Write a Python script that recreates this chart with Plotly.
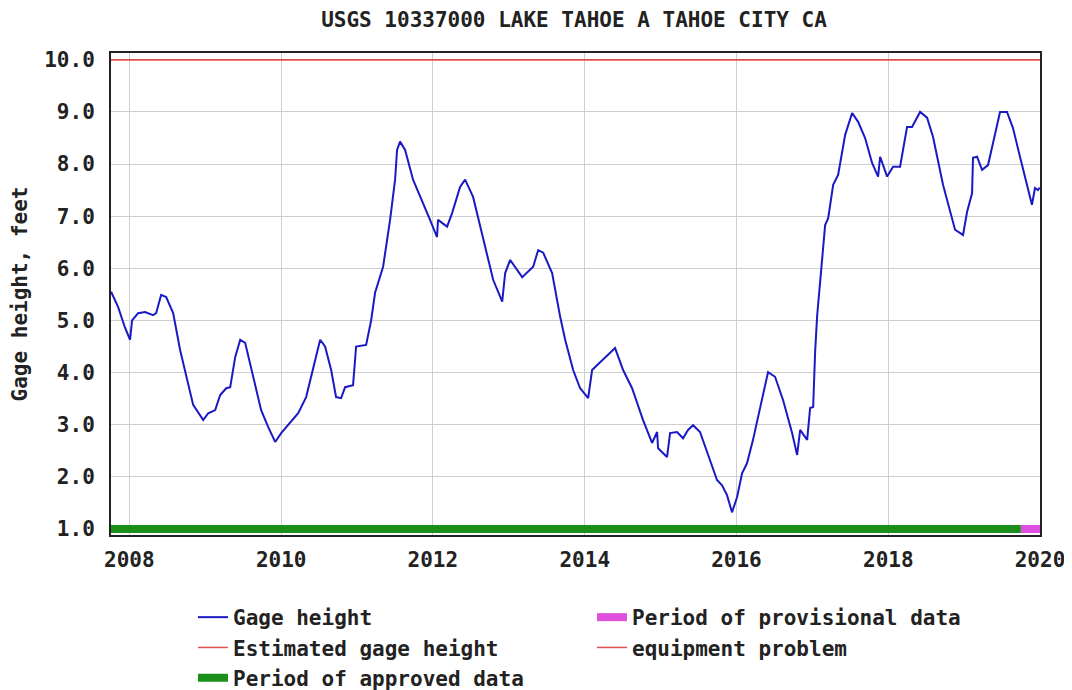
import datetime as dt
import plotly.graph_objects as go

# ---- data ----
# time as decimal years, gage height in feet
time_years = [
    2007.760, 2007.852, 2007.944, 2008.010, 2008.037, 2008.116, 2008.208, 2008.313,
    2008.353, 2008.419, 2008.485, 2008.577, 2008.669, 2008.774, 2008.840, 2008.972,
    2009.038, 2009.130, 2009.196, 2009.275, 2009.328, 2009.394, 2009.460, 2009.525,
    2009.605, 2009.736, 2009.828, 2009.921, 2010.000, 2010.118, 2010.224, 2010.329,
    2010.421, 2010.514, 2010.579, 2010.659, 2010.724, 2010.790, 2010.843, 2010.948,
    2010.988, 2011.120, 2011.186, 2011.238, 2011.344, 2011.436, 2011.502, 2011.528,
    2011.568, 2011.634, 2011.739, 2011.857, 2011.963, 2012.055, 2012.068, 2012.187,
    2012.253, 2012.358, 2012.424, 2012.529, 2012.661, 2012.793, 2012.912, 2012.951,
    2013.017, 2013.175, 2013.320, 2013.386, 2013.452, 2013.570, 2013.676, 2013.742,
    2013.847, 2013.939, 2014.045, 2014.097, 2014.203, 2014.334, 2014.400, 2014.506,
    2014.624, 2014.769, 2014.888, 2014.954, 2014.967, 2015.085, 2015.125, 2015.217,
    2015.296, 2015.362, 2015.428, 2015.520, 2015.652, 2015.744, 2015.810, 2015.876,
    2015.942, 2016.008, 2016.074, 2016.139, 2016.218, 2016.311, 2016.416, 2016.508,
    2016.614, 2016.732, 2016.798, 2016.838, 2016.930, 2016.969, 2017.009, 2017.035,
    2017.062, 2017.101, 2017.128, 2017.167, 2017.207, 2017.273, 2017.338, 2017.431,
    2017.523, 2017.602, 2017.694, 2017.786, 2017.865, 2017.892, 2017.984, 2018.063,
    2018.155, 2018.247, 2018.313, 2018.419, 2018.511, 2018.590, 2018.722, 2018.880,
    2018.985, 2019.038, 2019.104, 2019.117, 2019.170, 2019.236, 2019.315, 2019.381,
    2019.473, 2019.565, 2019.644, 2019.736, 2019.829, 2019.894, 2019.934, 2019.973,
    2019.997,
]
gage_height = [
    5.55, 5.26, 4.86, 4.63, 5.00, 5.14, 5.16, 5.10,
    5.14, 5.49, 5.45, 5.14, 4.43, 3.80, 3.38, 3.09,
    3.22, 3.28, 3.57, 3.70, 3.72, 4.30, 4.63, 4.57,
    4.10, 3.28, 2.96, 2.67, 2.84, 3.05, 3.22, 3.53,
    4.05, 4.63, 4.50, 4.05, 3.53, 3.51, 3.72, 3.76,
    4.50, 4.53, 5.00, 5.53, 6.03, 6.93, 7.70, 8.27,
    8.43, 8.27, 7.70, 7.31, 6.93, 6.60, 6.93, 6.80,
    7.06, 7.56, 7.70, 7.37, 6.60, 5.78, 5.36, 5.91,
    6.16, 5.83, 6.03, 6.35, 6.30, 5.91, 5.07, 4.63,
    4.05, 3.70, 3.51, 4.05, 4.20, 4.38, 4.47, 4.05,
    3.70, 3.09, 2.65, 2.86, 2.55, 2.38, 2.84, 2.86,
    2.74, 2.90, 2.99, 2.86, 2.32, 1.94, 1.84, 1.65,
    1.32, 1.61, 2.07, 2.26, 2.71, 3.34, 4.01, 3.92,
    3.47, 2.84, 2.42, 2.90, 2.71, 3.32, 3.34, 4.40,
    5.10, 5.74, 6.26, 6.83, 6.96, 7.60, 7.79, 8.56,
    8.98, 8.81, 8.50, 8.02, 7.76, 8.14, 7.76, 7.95,
    7.95, 8.71, 8.71, 9.00, 8.89, 8.52, 7.60, 6.74,
    6.64, 7.08, 7.44, 8.12, 8.14, 7.89, 7.98, 8.43,
    9.00, 9.00, 8.69, 8.14, 7.60, 7.22, 7.54, 7.50,
    7.55,
]
axis_start = "2007-10-05"
approved_end = "2019-10-01"
axis_end = "2020-01-01"
estimated_level = 10.0
period_bar_level = 1.0

title_text = "USGS 10337000 LAKE TAHOE A TAHOE CITY CA"
y_title = "Gage height, feet"
x_tick_vals = ["2008-01-01", "2010-01-01", "2012-01-01", "2014-01-01",
               "2016-01-01", "2018-01-01", "2020-01-01"]
x_tick_text = ["2008", "2010", "2012", "2014", "2016", "2018", "2020"]
y_tick_vals = [1, 2, 3, 4, 5, 6, 7, 8, 9, 10]


def decimal_year_to_date(t):
    year = int(t)
    start = dt.datetime(year, 1, 1)
    length = (dt.datetime(year + 1, 1, 1) - start).total_seconds()
    return start + dt.timedelta(seconds=(t - year) * length)


dates = [decimal_year_to_date(t) for t in time_years]

# ---- styles ----
FONT = "DejaVu Sans Mono"
BLUE = "#1a1ac4"
RED = "#e05050"
GREEN = "#1a901a"
MAGENTA = "#e050e0"
TXT = "#222222"

fig = go.Figure()

fig.add_trace(go.Scatter(
    x=dates, y=gage_height, mode="lines", name="Gage height",
    line=dict(color=BLUE, width=2), legend="legend"))
fig.add_trace(go.Scatter(
    x=[axis_start, axis_end], y=[estimated_level, estimated_level],
    mode="lines", name="Estimated gage height",
    line=dict(color=RED, width=1.5), legend="legend"))
fig.add_trace(go.Scatter(
    x=[axis_start, approved_end], y=[period_bar_level, period_bar_level],
    mode="lines", name="Period of approved data",
    line=dict(color=GREEN, width=8), legend="legend", cliponaxis=False))
fig.add_trace(go.Scatter(
    x=[approved_end, axis_end], y=[period_bar_level, period_bar_level],
    mode="lines", name="Period of provisional data",
    line=dict(color=MAGENTA, width=8), legend="legend2", cliponaxis=False))
fig.add_trace(go.Scatter(
    x=[axis_start, axis_end], y=[estimated_level, estimated_level],
    mode="lines", name="equipment problem",
    line=dict(color=RED, width=1.5), legend="legend2"))

legend_common = dict(
    font=dict(family=FONT, size=21, color=TXT, weight="bold"),
    bgcolor="rgba(0,0,0,0)", orientation="v",
    xref="paper", yref="paper", xanchor="left", yanchor="top",
    tracegroupgap=0, itemwidth=30,
)

# plot area: 929 x 482 px
fig.update_layout(
    width=1072, height=690,
    paper_bgcolor="white", plot_bgcolor="white",
    margin=dict(l=103, r=40, t=45, b=163, autoexpand=False),
    title=dict(text=title_text, x=566 / 1072, xanchor="center",
               y=1 - 12 / 690, yanchor="middle",
               font=dict(family=FONT, size=21, color=TXT, weight="bold")),
    legend=dict(x=82 / 929, y=-62 / 482, **legend_common),
    legend2=dict(x=481 / 929, y=-62 / 482, **legend_common),
    showlegend=True,
)

fig.update_xaxes(
    range=[axis_start, axis_end],
    tickvals=x_tick_vals, ticktext=x_tick_text,
    showgrid=True, gridcolor="#cfcfcf", gridwidth=1,
    showline=True, linecolor=TXT, linewidth=2, mirror=True,
    ticks="", ticklabelstandoff=5,
    tickfont=dict(family=FONT, size=21, color=TXT, weight="bold"),
    zeroline=False,
)
fig.update_yaxes(
    range=[0.885, 10.13],
    tickvals=y_tick_vals, tickformat=".1f",
    showgrid=True, gridcolor="#cfcfcf", gridwidth=1,
    showline=True, linecolor=TXT, linewidth=2, mirror=True,
    ticks="", ticklabelstandoff=10,
    tickfont=dict(family=FONT, size=21, color=TXT, weight="bold"),
    title=dict(text=y_title, standoff=11,
               font=dict(family=FONT, size=21, color=TXT, weight="bold")),
    zeroline=False,
)

fig.write_html("out.html")
